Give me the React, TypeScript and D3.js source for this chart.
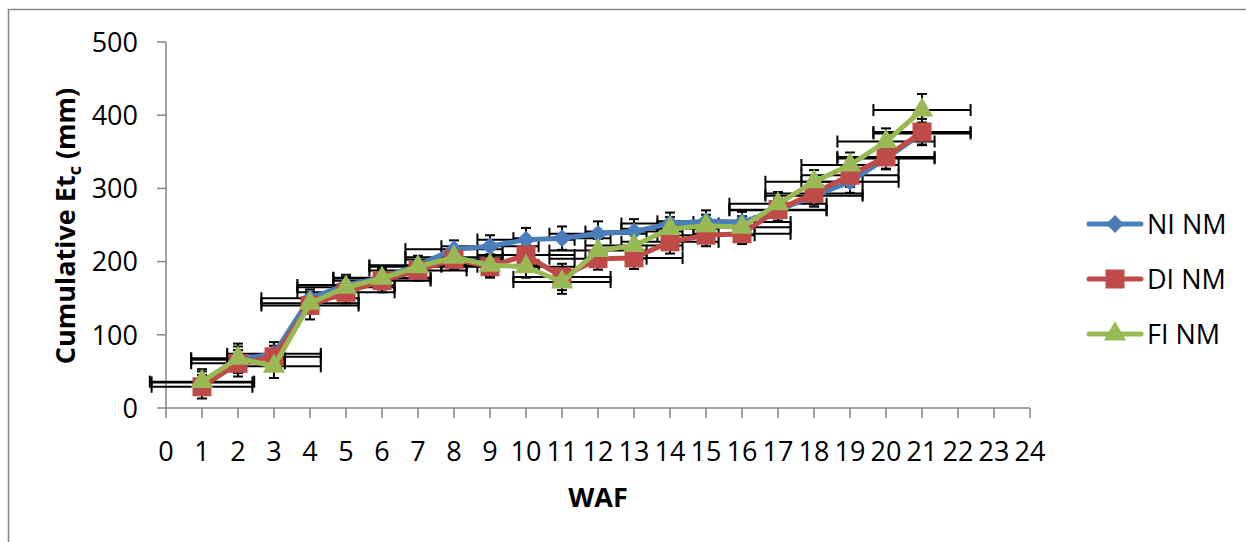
import React from "react";
import * as d3 from "d3";

// Weeks after ...
const weeks = [1, 2, 3, 4, 5, 6, 7, 8, 9, 10, 11, 12, 13, 14, 15, 16, 17, 18, 19, 20, 21];

// Cumulative Etc (mm) per treatment
const niNM = [35, 66, 74, 150, 168, 178, 195, 217, 221, 230, 232, 238, 241, 252, 255, 254, 270, 290, 309, 341, 375];
const diNM = [29, 61, 70, 140, 158, 174, 188, 203, 193, 209, 179, 204, 205, 227, 236, 238, 271, 293, 318, 343, 377];
const fiNM = [36, 68, 57, 143, 165, 177, 193, 206, 195, 193, 172, 215, 222, 245, 249, 247, 279, 309, 332, 364, 407];

// Vertical error (mm)
const niErr = [15, 18, 16, 12, 14, 13, 13, 12, 15, 16, 16, 17, 17, 15, 15, 14, 15, 15, 15, 15, 15];
const diErr = [16, 18, 15, 19, 15, 16, 14, 14, 15, 16, 18, 15, 15, 16, 15, 14, 15, 15, 16, 16, 18];
const fiErr = [17, 20, 16, 14, 14, 15, 14, 14, 15, 15, 16, 16, 16, 16, 15, 15, 16, 16, 17, 18, 22];

// Horizontal error (weeks)
const niXErr = [1.4, 1.3, 1.3, 1.35, 1.35, 1.35, 1.35, 1.35, 1.35, 1.35, 1.35, 1.35, 1.35, 1.35, 1.35, 1.35, 1.35, 1.35, 1.35, 1.35, 1.35];
const diXErr = [1.4, 1.3, 1.3, 1.35, 1.35, 1.35, 1.35, 1.35, 1.35, 1.35, 1.35, 1.35, 1.35, 1.35, 1.35, 1.35, 1.35, 1.35, 1.35, 1.35, 1.35];
const fiXErr = [1.45, 1.3, 1.3, 1.35, 1.35, 1.35, 1.35, 1.35, 1.35, 1.35, 1.35, 1.35, 1.35, 1.35, 1.35, 1.35, 1.35, 1.35, 1.35, 1.35, 1.35];

const xTickValues = [0, 1, 2, 3, 4, 5, 6, 7, 8, 9, 10, 11, 12, 13, 14, 15, 16, 17, 18, 19, 20, 21, 22, 23, 24];
const yTickValues = [0, 100, 200, 300, 400, 500];

const seriesNames = ["NI NM", "DI NM", "FI NM"];

const W = 1246;
const H = 542;
const FONT = "'Open Sans', 'Noto Sans', sans-serif";
const AXIS = "#868686";

type Series = {
  name: string;
  values: number[];
  yErr: number[];
  xErr: number[];
  color: string;
  marker: "diamond" | "square" | "triangle";
};

const series: Series[] = [
  { name: seriesNames[0], values: niNM, yErr: niErr, xErr: niXErr, color: "#4A7EBB", marker: "diamond" },
  { name: seriesNames[1], values: diNM, yErr: diErr, xErr: diXErr, color: "#BE4B48", marker: "square" },
  { name: seriesNames[2], values: fiNM, yErr: fiErr, xErr: fiXErr, color: "#98B954", marker: "triangle" },
];

const diamondPath = (r: number) => `M0,${-r}L${r},0L0,${r}L${-r},0Z`;
const squarePath = (r: number) => `M${-r},${-r}H${r}V${r}H${-r}Z`;
const trianglePath = d3.symbol().type(d3.symbolTriangle).size(215)() as string;

function markerPath(m: Series["marker"]) {
  if (m === "diamond") return diamondPath(9);
  if (m === "square") return squarePath(9.5);
  return trianglePath;
}

export default function App() {
  const x = d3.scaleLinear().domain([0, 24]).range([166, 1030]);
  const y = d3.scaleLinear().domain([0, 500]).range([408, 42]);

  const line = d3
    .line<number>()
    .x((_, i) => x(weeks[i]))
    .y((d) => y(d));

  const cap = 5;
  const hCap = 6;

  return (
    <svg
      width={W}
      height={H}
      style={{ position: "absolute", left: 0, top: 0, background: "#fff" }}
      fontFamily={FONT}
    >
      {/* chart frame */}
      <rect x={8.5} y={9.5} width={1260} height={560} fill="#fff" stroke={AXIS} strokeWidth={1.5} />

      {/* y axis */}
      <line x1={166} x2={166} y1={y(500)} y2={y(0)} stroke={AXIS} strokeWidth={1.5} />
      {yTickValues.map((v) => (
        <g key={"yt" + v}>
          <line x1={157} x2={166} y1={y(v)} y2={y(v)} stroke={AXIS} strokeWidth={1.5} />
          <text x={138} y={y(v)} dy="0.36em" textAnchor="end" fontSize={27} fill="#000">
            {v}
          </text>
        </g>
      ))}

      {/* x axis */}
      <line x1={x(0)} x2={x(24)} y1={y(0)} y2={y(0)} stroke={AXIS} strokeWidth={1.5} />
      {xTickValues.map((v) => (
        <g key={"xt" + v}>
          <line x1={x(v)} x2={x(v)} y1={y(0)} y2={y(0) + 10} stroke={AXIS} strokeWidth={1.5} />
          <text x={x(v)} y={451} dy="0.36em" textAnchor="middle" fontSize={27} fill="#000">
            {v}
          </text>
        </g>
      ))}

      {/* axis titles */}
      <text x={x(12)} y={497} dy="0.36em" textAnchor="middle" fontSize={27} fontWeight="bold" fill="#000">
        WAF
      </text>
      <text
        transform={`translate(65,226) rotate(-90)`}
        textAnchor="middle"
        dy="0.36em"
        fontSize={27}
        fontWeight="bold"
        fill="#000"
      >
        Cumulative Et
        <tspan fontSize={18} dy="6">c</tspan>
        <tspan dy="-6"> (mm)</tspan>
      </text>

      {/* error bars */}
      {series.map((s) =>
        s.values.map((v, i) => {
          const cx = x(weeks[i]);
          const cy = y(v);
          const y0 = y(v - s.yErr[i]);
          const y1 = y(v + s.yErr[i]);
          const x0 = x(weeks[i] - s.xErr[i]);
          const x1 = x(weeks[i] + s.xErr[i]);
          return (
            <g key={s.name + "e" + i} stroke="#000" strokeWidth={2} fill="none">
              <line x1={cx} x2={cx} y1={y0} y2={y1} />
              <line x1={cx - cap} x2={cx + cap} y1={y0} y2={y0} />
              <line x1={cx - cap} x2={cx + cap} y1={y1} y2={y1} />
              <line x1={x0} x2={x1} y1={cy} y2={cy} />
              <line x1={x0} x2={x0} y1={cy - hCap} y2={cy + hCap} />
              <line x1={x1} x2={x1} y1={cy - hCap} y2={cy + hCap} />
            </g>
          );
        })
      )}

      {/* lines and markers */}
      {series.map((s) => (
        <g key={s.name}>
          <path
            d={line(s.values) as string}
            fill="none"
            stroke={s.color}
            strokeWidth={5}
            strokeLinejoin="round"
            strokeLinecap="round"
          />
          {s.values.map((v, i) => (
            <path
              key={i}
              d={markerPath(s.marker)}
              transform={`translate(${x(weeks[i])},${y(v)})`}
              fill={s.color}
            />
          ))}
        </g>
      ))}

      {/* legend */}
      {series.map((s, i) => {
        const ly = 224 + i * 55;
        return (
          <g key={"lg" + s.name}>
            <line x1={1089} x2={1141} y1={ly} y2={ly} stroke={s.color} strokeWidth={5} strokeLinecap="round" />
            <path d={markerPath(s.marker)} transform={`translate(1115,${ly})`} fill={s.color} />
            <text x={1147} y={ly} dy="0.36em" fontSize={27} fill="#000">
              {s.name}
            </text>
          </g>
        );
      })}
    </svg>
  );
}
